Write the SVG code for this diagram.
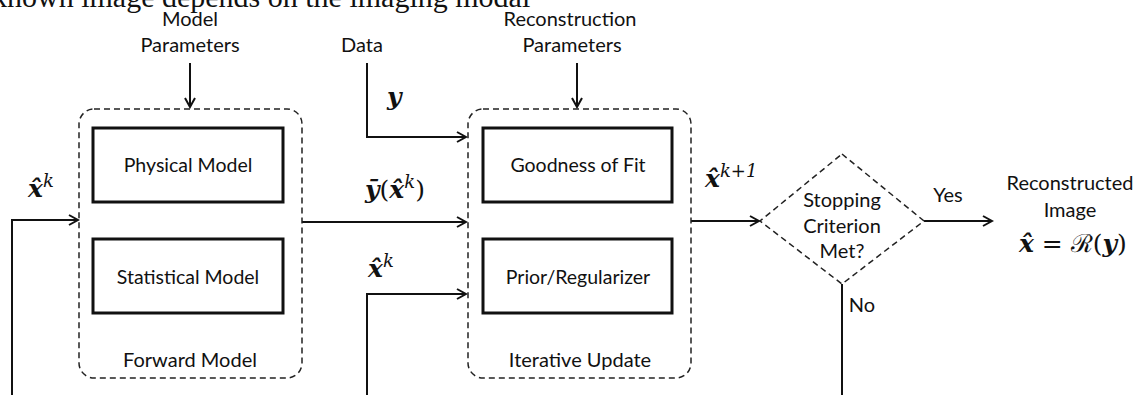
<svg xmlns="http://www.w3.org/2000/svg" width="1139" height="395" viewBox="0 0 1139 395">
<style>
.lbl{font-family:Lato,"Liberation Sans",sans-serif;font-size:20px;fill:#111;text-anchor:middle}
.box{font-size:19.5px}
.group{fill:none;stroke:#222;stroke-width:1.5;stroke-dasharray:6,4}
.blk{fill:#fff;stroke:#111;stroke-width:3}
.con{fill:none;stroke:#111;stroke-width:2}
.math{font-family:"DejaVu Serif","Liberation Serif",serif;font-size:25px;fill:#111}
.bi{font-weight:bold;font-style:italic}
.sup{font-style:italic;font-weight:normal;font-size:18px}
.top{font-family:"Liberation Serif",serif;font-size:30px;fill:#111}
</style>
<defs>
<marker id="arr" markerWidth="12" markerHeight="12" refX="10" refY="6" orient="auto" markerUnits="userSpaceOnUse">
<path d="M1,1 L10,6 L1,11" fill="none" stroke="#111" stroke-width="2"/>
</marker>
</defs>
<rect width="1139" height="395" fill="#fff"/>
<text class="top" x="-8" y="7">known image depends on the imaging modal</text>

<g id="connectors">
<path class="con" d="M190,63 V107" marker-end="url(#arr)"/>
<path class="con" d="M577,63 V107" marker-end="url(#arr)"/>
<path class="con" d="M367,63 V137 H466" marker-end="url(#arr)"/>
<path class="con" d="M12,395 V220 H78" marker-end="url(#arr)"/>
<path class="con" d="M302,222 H466" marker-end="url(#arr)"/>
<path class="con" d="M367,395 V294 H466" marker-end="url(#arr)"/>
<path class="con" d="M691,221 H759" marker-end="url(#arr)"/>
<path class="con" d="M924,221 H992" marker-end="url(#arr)"/>
<path class="con" d="M842,284 V395"/>
</g>

<g id="model-params">
<text class="lbl" x="190" y="26">Model</text>
<text class="lbl" x="190" y="52">Parameters</text>
</g>
<g id="data">
<text class="lbl" x="362" y="52">Data</text>
</g>
<g id="recon-params">
<text class="lbl" x="570" y="26">Reconstruction</text>
<text class="lbl" x="572" y="52">Parameters</text>
</g>

<g id="forward-model">
<rect class="group" x="79" y="109" width="223" height="269" rx="15"/>
<text class="lbl" x="190" y="367">Forward Model</text>
</g>
<g id="physical-model">
<rect class="blk" x="93" y="128" width="190" height="74"/>
<text class="lbl box" x="188" y="172">Physical Model</text>
</g>
<g id="statistical-model">
<rect class="blk" x="93" y="239" width="190" height="74"/>
<text class="lbl box" x="188" y="284">Statistical Model</text>
</g>

<g id="iterative-update">
<rect class="group" x="468" y="109" width="223" height="269" rx="15"/>
<text class="lbl" x="580" y="367">Iterative Update</text>
</g>
<g id="goodness-of-fit">
<rect class="blk" x="483" y="128" width="189" height="74"/>
<text class="lbl box" x="578" y="172">Goodness of Fit</text>
</g>
<g id="prior">
<rect class="blk" x="483" y="239" width="189" height="74"/>
<text class="lbl box" x="578" y="284">Prior/Regularizer</text>
</g>

<g id="stopping">
<path class="group" d="M842,154 L924,221 L842,284 L760,221 Z"/>
<text class="lbl" x="842" y="207">Stopping</text>
<text class="lbl" x="842" y="233">Criterion</text>
<text class="lbl" x="842" y="258">Met?</text>
</g>
<g id="labels">
<text class="lbl" x="948" y="202">Yes</text>
<text class="lbl" x="862" y="312">No</text>
<text class="math" x="28" y="197"><tspan class="bi">x&#770;</tspan><tspan class="sup" dy="-10">k</tspan></text>
<text class="math" x="387" y="105"><tspan class="bi">y</tspan></text>
<text class="math" x="365" y="198"><tspan class="bi">y&#772;</tspan>(<tspan class="bi">x&#770;</tspan><tspan class="sup" dy="-10">k</tspan><tspan dy="10">)</tspan></text>
<text class="math" x="368" y="277"><tspan class="bi">x&#770;</tspan><tspan class="sup" dy="-10">k</tspan></text>
<text class="math" x="705" y="187"><tspan class="bi">x&#770;</tspan><tspan class="sup" dy="-10">k+1</tspan></text>
</g>
<g id="result">
<text class="lbl" x="1070" y="190">Reconstructed</text>
<text class="lbl" x="1070" y="217">Image</text>
<text class="math" x="1019" y="252"><tspan class="bi">x&#770;</tspan> = ℛ(<tspan class="bi">y</tspan>)</text>
</g>
</svg>
